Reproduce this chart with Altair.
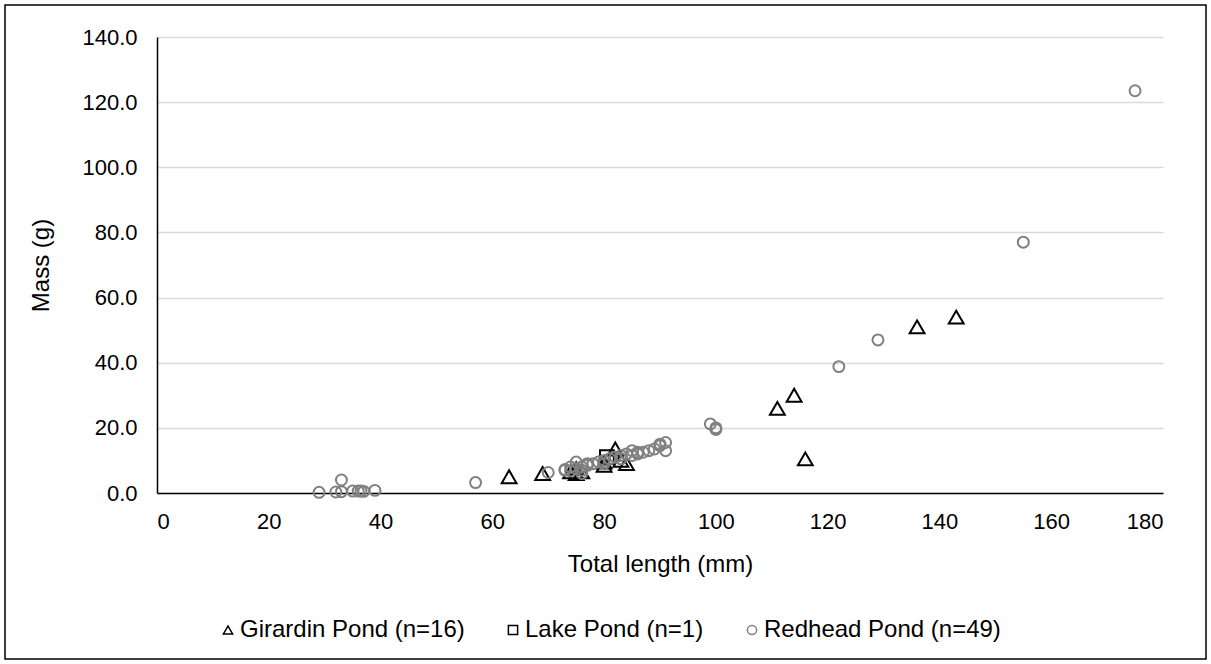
import altair as alt
import pandas as pd

# ---- data ----
girardin_x = [63, 69, 74, 75, 75, 76, 80, 80, 82, 83, 84, 111, 114, 116, 136, 143]
girardin_y = [5.0, 6.0, 6.5, 6.0, 7.5, 6.5, 8.5, 9.5, 13.5, 10.0, 9.0, 26.0, 30.0, 10.5, 51.0, 54.0]

lake_x = [80.5]
lake_y = [11.0]

redhead_x = [29, 32, 33, 33, 35, 36, 36.5, 37, 39, 57, 70, 73,
             73, 74, 74, 75, 75, 76, 76, 76, 77, 77, 78, 79, 80, 80, 81,
             82, 83, 83, 84, 85, 85, 86, 86, 87, 88, 89, 90, 90, 91, 91,
             99, 100, 100, 122, 129, 155, 175]
redhead_y = [0.2, 0.3, 4.0, 0.4, 0.6, 0.6, 0.6, 0.5, 0.8, 3.2, 6.3, 7.0,
             7.2, 6.8, 8.0, 7.5, 9.5, 8.0, 6.0, 7.0, 8.5, 9.0, 9.0, 9.5, 9.0, 10.0, 10.5,
             11.0, 10.5, 11.5, 12.0, 11.5, 13.0, 12.5, 12.0, 12.5, 13.0, 13.5, 14.5, 15.0, 15.5, 13.0,
             21.2, 20.0, 19.5, 38.8, 47.0, 77.0, 123.5]

series_names = ["Girardin Pond (n=16)", "Lake Pond (n=1)", "Redhead Pond (n=49)"]
series_shapes = ["triangle-up", "square", "circle"]
series_colors = ["#000000", "#000000", "#808080"]
series_sizes = [220, 190, 120]

x_ticks = list(range(0, 181, 20))
y_ticks = list(range(0, 141, 20))

FONT = "Liberation Sans"
FS = 22

legend = alt.Legend(title=None, orient="none", direction="horizontal",
                    legendX=59, legendY=581, columnPadding=36,
                    labelOffset=0, symbolSize=85, symbolStrokeWidth=1.5,
                    labelLimit=400, labelFontSize=24, labelFont=FONT, labelColor="black")

xenc = alt.X("length:Q", title="Total length (mm)",
             scale=alt.Scale(domain=[0, 180], nice=False, zero=True),
             axis=alt.Axis(values=x_ticks, grid=False, ticks=False, domainColor="black",
                           domainWidth=1.5, labelPadding=18, titlePadding=20, format="d"))
yenc = alt.Y("mass:Q", title="Mass (g)",
             scale=alt.Scale(domain=[0, 140], nice=False),
             axis=alt.Axis(values=y_ticks, grid=True, gridColor="#d9d9d9", gridWidth=1.5,
                           ticks=False, domainColor="black", domainWidth=1.5,
                           labelPadding=20, titlePadding=28, format=".1f"))

layers = []
for i, (xs, ys) in enumerate([(girardin_x, girardin_y), (lake_x, lake_y), (redhead_x, redhead_y)]):
    d = pd.DataFrame({"length": xs, "mass": ys, "pond": [series_names[i]] * len(xs)})
    layers.append(
        alt.Chart(d).mark_point(filled=False, strokeWidth=2, opacity=1, size=series_sizes[i]).encode(
            x=xenc, y=yenc,
            shape=alt.Shape("pond:N", scale=alt.Scale(domain=series_names, range=series_shapes),
                            legend=legend),
            color=alt.Color("pond:N", scale=alt.Scale(domain=series_names, range=series_colors),
                            legend=legend),
        )
    )

frame_df = pd.DataFrame({"k": [0]})
frame = alt.Chart(frame_df).mark_rect(fill=None, stroke="black", strokeWidth=1.5).encode(
    x=alt.value(-152), x2=alt.value(1049), y=alt.value(-32), y2=alt.value(622)
)

chart = alt.layer(*layers, frame).properties(
    width=1006, height=456,
    autosize=alt.AutoSizeParams(type="none"),
    padding={"left": 157, "top": 37, "right": 48, "bottom": 171},
    background="white",
).configure_view(stroke=None).configure_axis(
    labelFont=FONT, labelFontSize=FS, labelColor="black",
    titleFont=FONT, titleFontSize=24, titleFontWeight="normal", titleColor="black",
).configure_legend(labelFont=FONT, labelFontSize=24)

chart.save("out.html", embed_options={"renderer": "svg", "actions": False})
